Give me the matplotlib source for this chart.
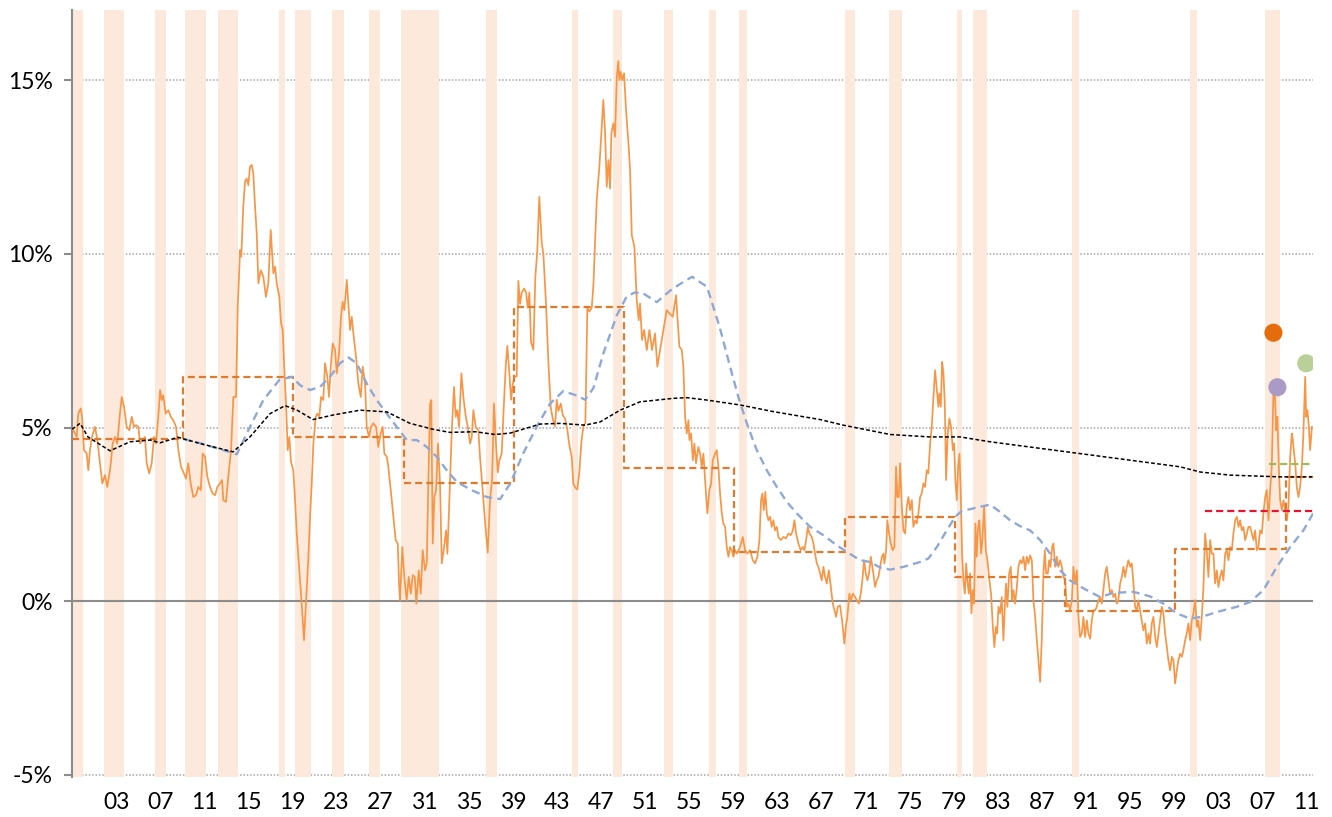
import numpy as np
import matplotlib.pyplot as plt

plt.rcParams['font.family'] = ['Lato', 'DejaVu Sans']

# monthly series
yr = [1899.00, 1899.12, 1899.43, 1899.57, 1899.79, 1899.91, 1900.09, 1900.33, 1900.48, 1900.63,
      1900.81, 1901.09, 1901.30, 1901.54, 1901.75, 1901.99, 1902.20, 1902.45, 1902.69, 1902.90,
      1903.11, 1903.29, 1903.51, 1903.72, 1903.96, 1904.20, 1904.42, 1904.63, 1904.81, 1905.02,
      1905.17, 1905.42, 1905.62, 1905.78, 1906.01, 1906.23, 1906.44, 1906.62, 1906.83, 1906.99,
      1907.14, 1907.28, 1907.50, 1907.74, 1907.96, 1908.19, 1908.44, 1908.65, 1908.89, 1909.10,
      1909.34, 1909.55, 1909.77, 1910.01, 1910.25, 1910.46, 1910.68, 1910.86, 1911.07, 1911.28,
      1911.52, 1911.77, 1911.98, 1912.19, 1912.43, 1912.61, 1912.73, 1912.97, 1913.18, 1913.43,
      1913.64, 1913.88, 1914.04, 1914.25, 1914.36, 1914.54, 1914.70, 1914.85, 1915.00, 1915.15,
      1915.31, 1915.45, 1915.61, 1915.76, 1915.91, 1916.12, 1916.36, 1916.60, 1916.81, 1917.03,
      1917.27, 1917.42, 1917.58, 1917.81, 1917.97, 1918.12, 1918.24, 1918.42, 1918.57, 1918.72,
      1918.87, 1919.08, 1919.24, 1919.39, 1919.60, 1919.84, 1920.05, 1920.23, 1920.42, 1920.60,
      1920.75, 1920.90, 1921.11, 1921.26, 1921.44, 1921.60, 1921.80, 1921.96, 1922.17, 1922.32,
      1922.50, 1922.66, 1922.87, 1923.02, 1923.23, 1923.41, 1923.56, 1923.71, 1923.93, 1924.07,
      1924.23, 1924.38, 1924.53, 1924.77, 1924.98, 1925.20, 1925.38, 1925.59, 1925.74, 1925.95,
      1926.13, 1926.34, 1926.59, 1926.79, 1927.01, 1927.19, 1927.34, 1927.56, 1927.70, 1927.92,
      1928.16, 1928.37, 1928.56, 1928.67, 1928.76, 1928.97, 1929.15, 1929.37, 1929.55, 1929.74,
      1929.92, 1930.10, 1930.24, 1930.46, 1930.64, 1930.82, 1931.03, 1931.19, 1931.33, 1931.49,
      1931.60, 1931.73, 1931.88, 1932.03, 1932.21, 1932.39, 1932.55, 1932.76, 1932.94, 1933.06,
      1933.24, 1933.46, 1933.66, 1933.82, 1933.96, 1934.12, 1934.33, 1934.51, 1934.73, 1934.91,
      1935.12, 1935.27, 1935.42, 1935.63, 1935.87, 1936.02, 1936.27, 1936.48, 1936.72, 1936.93,
      1937.11, 1937.29, 1937.48, 1937.63, 1937.77, 1937.99, 1938.14, 1938.36, 1938.50, 1938.68,
      1938.84, 1938.99, 1939.14, 1939.35, 1939.50, 1939.65, 1939.81, 1940.02, 1940.20, 1940.35,
      1940.50, 1940.65, 1940.86, 1941.04, 1941.22, 1941.40, 1941.62, 1941.77, 1942.01, 1942.22,
      1942.44, 1942.62, 1942.83, 1942.98, 1943.13, 1943.35, 1943.53, 1943.74, 1943.95, 1944.13,
      1944.34, 1944.49, 1944.67, 1944.85, 1945.03, 1945.22, 1945.40, 1945.58, 1945.76, 1945.94,
      1946.16, 1946.31, 1946.46, 1946.61, 1946.85, 1947.21, 1947.37, 1947.52, 1947.67, 1947.82,
      1947.94, 1948.12, 1948.27, 1948.43, 1948.57, 1948.66, 1948.79, 1948.91, 1949.09, 1949.27,
      1949.52, 1949.64, 1949.79, 1950.03, 1950.24, 1950.42, 1950.54, 1950.72, 1950.91, 1951.15,
      1951.39, 1951.63, 1951.90, 1952.11, 1952.36, 1952.60, 1952.81, 1952.96, 1953.20, 1953.51,
      1953.69, 1953.81, 1953.93, 1954.11, 1954.33, 1954.47, 1954.63, 1954.78, 1954.93, 1955.02,
      1955.17, 1955.33, 1955.47, 1955.62, 1955.83, 1955.99, 1956.14, 1956.29, 1956.44, 1956.65,
      1956.83, 1956.99, 1957.14, 1957.35, 1957.50, 1957.65, 1957.80, 1957.96, 1958.10, 1958.26,
      1958.41, 1958.56, 1958.71, 1958.86, 1959.01, 1959.16, 1959.32, 1959.62, 1959.86, 1960.07,
      1960.28, 1960.52, 1960.77, 1960.98, 1961.19, 1961.37, 1961.52, 1961.64, 1961.77, 1961.91,
      1962.04, 1962.19, 1962.34, 1962.49, 1962.64, 1962.79, 1962.95, 1963.09, 1963.31, 1963.55,
      1963.79, 1964.00, 1964.22, 1964.40, 1964.55, 1964.70, 1964.91, 1965.12, 1965.30, 1965.45,
      1965.61, 1965.76, 1965.91, 1966.12, 1966.27, 1966.42, 1966.58, 1966.72, 1966.88, 1967.03,
      1967.18, 1967.33, 1967.48, 1967.67, 1967.85, 1968.03, 1968.18, 1968.33, 1968.48, 1968.69,
      1968.87, 1968.99, 1969.08, 1969.21, 1969.35, 1969.53, 1969.69, 1969.84, 1970.05, 1970.21,
      1970.39, 1970.57, 1970.71, 1970.87, 1971.02, 1971.17, 1971.32, 1971.48, 1971.71, 1971.87,
      1972.02, 1972.17, 1972.32, 1972.48, 1972.62, 1972.71, 1972.87, 1972.98, 1973.14, 1973.29,
      1973.47, 1973.62, 1973.77, 1973.89, 1974.02, 1974.14, 1974.29, 1974.44, 1974.59, 1974.74,
      1974.89, 1975.04, 1975.20, 1975.34, 1975.50, 1975.65, 1975.80, 1975.95, 1976.10, 1976.25,
      1976.40, 1976.56, 1976.70, 1976.86, 1977.01, 1977.16, 1977.31, 1977.47, 1977.61, 1977.70,
      1977.83, 1977.95, 1978.07, 1978.19, 1978.31, 1978.46, 1978.61, 1978.76, 1978.92, 1979.04,
      1979.15, 1979.28, 1979.40, 1979.52, 1979.64, 1979.76, 1979.88, 1980.01, 1980.13, 1980.24,
      1980.37, 1980.49, 1980.61, 1980.73, 1980.85, 1980.97, 1981.09, 1981.21, 1981.33, 1981.49,
      1981.60, 1981.76, 1981.91, 1982.06, 1982.24, 1982.39, 1982.55, 1982.69, 1982.82, 1982.94,
      1983.06, 1983.21, 1983.36, 1983.51, 1983.64, 1983.75, 1983.87, 1984.03, 1984.18, 1984.30,
      1984.42, 1984.57, 1984.73, 1984.87, 1985.03, 1985.18, 1985.33, 1985.48, 1985.63, 1985.78,
      1985.93, 1986.09, 1986.23, 1986.39, 1986.54, 1986.69, 1986.84, 1986.99, 1987.14, 1987.27,
      1987.38, 1987.54, 1987.66, 1987.78, 1987.93, 1988.05, 1988.20, 1988.35, 1988.50, 1988.66,
      1988.81, 1988.96, 1989.11, 1989.26, 1989.41, 1989.56, 1989.72, 1989.86, 1990.02, 1990.17,
      1990.32, 1990.47, 1990.62, 1990.77, 1990.92, 1991.08, 1991.22, 1991.38, 1991.53, 1991.68,
      1991.83, 1991.98, 1992.13, 1992.28, 1992.44, 1992.58, 1992.74, 1992.89, 1993.04, 1993.19,
      1993.35, 1993.49, 1993.65, 1993.80, 1993.94, 1994.10, 1994.25, 1994.40, 1994.55, 1994.71,
      1994.85, 1995.01, 1995.16, 1995.31, 1995.46, 1995.61, 1995.76, 1995.91, 1996.07, 1996.21,
      1996.37, 1996.52, 1996.67, 1996.82, 1996.97, 1997.12, 1997.28, 1997.43, 1997.58, 1997.73,
      1997.88, 1998.03, 1998.18, 1998.34, 1998.48, 1998.64, 1998.79, 1998.94, 1999.09, 1999.24,
      1999.39, 1999.54, 1999.70, 1999.84, 2000.00, 2000.15, 2000.30, 2000.45, 2000.60, 2000.75,
      2000.91, 2001.06, 2001.20, 2001.36, 2001.51, 2001.66, 2001.81, 2001.96, 2002.11, 2002.27,
      2002.42, 2002.57, 2002.72, 2002.87, 2003.02, 2003.17, 2003.33, 2003.47, 2003.63, 2003.78,
      2003.93, 2004.08, 2004.23, 2004.38, 2004.54, 2004.69, 2004.84, 2004.99, 2005.14, 2005.29,
      2005.44, 2005.60, 2005.74, 2005.90, 2006.05, 2006.20, 2006.35, 2006.50, 2006.65, 2006.80,
      2006.96, 2007.10, 2007.26, 2007.41, 2007.56, 2007.71, 2007.86, 2008.01, 2008.14, 2008.26,
      2008.37, 2008.50, 2008.62, 2008.77, 2008.92, 2009.07, 2009.23, 2009.37, 2009.53, 2009.68,
      2009.77, 2009.89, 2010.01, 2010.13, 2010.28, 2010.43, 2010.59, 2010.73, 2010.89, 2010.98,
      2011.10, 2011.22, 2011.34, 2011.50]
val = [4.95, 4.92, 4.73, 5.40, 5.55, 5.31, 4.35, 4.26, 3.77, 4.35,
       4.73, 5.02, 4.64, 3.97, 3.39, 3.63, 3.29, 3.77, 4.54, 4.73,
       4.54, 5.21, 5.88, 5.60, 5.02, 4.92, 5.31, 5.02, 5.07, 5.02,
       4.54, 4.64, 4.73, 3.97, 3.68, 3.97, 4.73, 4.54, 5.31, 6.08,
       5.79, 5.93, 5.40, 5.50, 5.31, 5.21, 5.02, 4.35, 3.87, 3.72,
       3.53, 3.97, 3.39, 3.00, 3.05, 3.29, 3.20, 4.25, 4.16, 3.58,
       3.29, 3.10, 3.05, 3.29, 3.39, 3.49, 2.91, 2.86, 3.58, 4.35,
       5.88, 5.88, 8.48, 10.11, 9.92, 11.36, 12.08, 12.17, 11.98, 12.51,
       12.56, 12.32, 11.36, 10.59, 9.15, 9.53, 9.34, 8.76, 9.15, 10.69,
       9.44, 9.63, 9.15, 8.76, 8.00, 7.81, 6.85, 5.69, 4.35, 4.73,
       4.01, 3.77, 2.91, 1.95, 0.99, -0.07, -1.12, -0.07, 1.09, 2.43,
       3.39, 4.54, 5.31, 5.40, 5.31, 5.88, 5.79, 6.85, 6.46, 5.88,
       6.85, 7.42, 7.23, 6.56, 7.13, 8.19, 8.62, 8.38, 9.25, 8.57,
       7.81, 8.19, 7.71, 7.04, 6.27, 5.88, 6.75, 6.27, 5.02, 4.73,
       5.02, 5.12, 5.02, 4.44, 4.83, 5.02, 4.25, 4.16, 3.87, 3.20,
       2.43, 1.76, 1.66, 0.51, 0.03, 1.56, 0.70, 0.03, 0.70, 0.22,
       0.75, 0.70, -0.07, 0.89, 0.22, 1.47, 0.89, 1.09, 3.39, 5.69,
       5.79, 1.66, 3.00, 3.20, 4.54, 3.39, 1.09, 1.56, 2.04, 1.37,
       2.91, 4.92, 6.17, 5.31, 5.50, 5.02, 6.56, 5.88, 5.31, 5.02,
       4.54, 4.73, 5.50, 5.02, 4.92, 4.15, 3.16, 2.28, 1.40, 2.94,
       3.49, 5.69, 4.48, 3.71, 4.04, 4.26, 5.36, 6.80, 7.35, 6.58,
       5.80, 6.24, 6.47, 6.47, 9.22, 8.56, 8.89, 9.00, 8.89, 8.45,
       8.89, 7.46, 7.24, 9.33, 10.10, 11.64, 10.32, 9.99, 8.56, 6.91,
       5.58, 5.25, 5.03, 5.80, 5.48, 5.69, 5.36, 5.25, 4.92, 4.48,
       4.15, 3.38, 3.27, 3.22, 3.71, 4.59, 5.03, 5.14, 8.45, 8.34,
       8.45, 9.11, 10.32, 11.55, 12.51, 14.43, 13.47, 11.93, 12.70, 11.88,
       13.47, 13.76, 13.37, 15.10, 15.55, 15.00, 15.24, 15.00, 15.20, 14.14,
       13.04, 12.36, 10.54, 10.20, 8.67, 8.09, 8.57, 7.52, 7.81, 7.23,
       7.81, 7.23, 7.71, 6.75, 7.23, 7.71, 8.09, 8.38, 8.29, 8.19,
       8.57, 8.81, 8.19, 7.33, 7.23, 6.75, 5.31, 4.83, 5.21, 4.64,
       4.83, 4.06, 4.54, 3.97, 4.44, 4.25, 3.87, 4.25, 3.49, 2.53,
       3.20, 3.39, 4.06, 4.25, 4.35, 3.87, 3.10, 2.53, 2.24, 2.14,
       1.56, 1.28, 1.56, 1.47, 1.28, 1.47, 1.37, 1.56, 1.85, 1.47,
       1.37, 1.47, 1.18, 1.09, 1.28, 1.76, 2.91, 3.10, 2.62, 3.15,
       2.53, 2.33, 2.43, 2.14, 2.33, 2.04, 2.14, 1.85, 1.76, 1.85,
       1.81, 1.95, 1.90, 2.04, 2.33, 1.95, 1.66, 1.47, 1.56, 1.47,
       1.76, 2.14, 1.95, 1.85, 1.66, 1.37, 1.09, 0.99, 0.80, 0.60,
       0.99, 0.70, 0.51, 0.89, 0.41, -0.07, -0.26, -0.45, -0.16, -0.12,
       -0.55, -0.93, -1.22, -0.74, -0.45, 0.22, 0.03, 0.22, 0.12, 0.03,
       -0.07, 0.22, 0.60, 1.18, 0.80, 0.60, 0.80, 1.28, 0.80, 0.41,
       0.60, 0.70, 0.99, 1.28, 1.37, 1.09, 1.47, 2.33, 1.95, 1.66,
       1.47, 1.56, 3.87, 3.00, 3.00, 3.97, 2.72, 2.04, 1.95, 2.72,
       3.00, 2.62, 2.91, 2.14, 2.33, 2.24, 2.53, 3.00, 3.10, 3.39,
       3.29, 3.77, 3.68, 4.54, 5.02, 5.88, 6.65, 6.08, 5.60, 5.98,
       5.60, 6.89, 6.56, 5.69, 3.49, 4.83, 5.26, 5.02, 4.35, 4.54,
       3.49, 2.91, 3.87, 4.25, 3.10, 1.37, 0.60, 0.22, 1.09, 0.60,
       0.22, 0.80, -0.35, 0.32, -0.07, 2.24, 1.28, 2.14, 2.33, 1.37,
       1.76, 2.72, 1.47, 1.18, 0.60, 0.22, -0.74, -1.32, -0.74, -0.93,
       -0.16, -0.35, 0.12, -1.12, -0.16, 0.51, -0.16, 0.80, 0.99, 0.03,
       0.32, -0.07, 0.41, 0.99, 1.18, 1.09, 1.28, 0.89, 1.28, 1.09,
       1.32, 1.18, 0.03, -0.45, -1.12, -1.70, -2.32, -1.12, 0.80, 1.47,
       0.80, 0.80, 1.18, 0.99, 1.56, 1.66, 0.99, 1.28, 0.99, 1.18,
       0.99, 0.70, 0.60, -0.16, -0.07, -0.26, 0.03, 0.99, 0.51, 0.89,
       -0.45, -1.03, -0.93, -0.45, -1.03, -0.55, -0.93, -1.08, -0.55, -0.26,
       -0.26, -0.16, 0.03, 0.12, -0.07, 0.32, 0.80, 0.99, 0.60, 0.22,
       0.32, 0.12, 0.22, -0.07, 0.03, 0.51, 0.70, 0.99, 0.70, 0.99,
       1.18, 0.99, 1.09, 0.51, -0.16, -0.26, 0.03, -0.26, -0.55, -0.84,
       -0.64, -1.22, -0.93, -1.22, -0.64, -0.45, -1.03, -1.32, -0.93, -0.55,
       -0.16, -0.35, -0.93, -1.32, -1.70, -1.99, -1.60, -1.70, -2.37, -1.99,
       -1.70, -1.51, -1.60, -1.41, -1.12, -0.93, -0.64, -1.12, -0.55, -0.35,
       0.03, -0.74, -0.55, -1.12, -0.45, 0.41, 1.95, 1.47, 0.70, 1.76,
       1.37, 1.37, 0.51, 0.89, 0.41, 0.70, 0.89, 0.60, 1.37, 1.47,
       1.18, 1.56, 1.47, 1.95, 2.33, 2.43, 2.14, 2.33, 2.04, 2.14,
       1.76, 1.95, 2.14, 2.14, 1.95, 1.76, 2.04, 1.47, 1.56, 2.04,
       1.95, 2.53, 3.00, 3.20, 2.33, 3.20, 3.87, 6.08, 5.98, 4.92,
       5.31, 3.87, 2.91, 2.62, 2.91, 2.62, 2.33, 2.72, 4.16, 4.83,
       4.64, 4.25, 3.87, 3.29, 3.00, 3.29, 3.87, 4.83, 6.46, 5.31,
       5.50, 5.02, 4.35, 5.02]

# long-run (cumulative) average, black dotted
avg_yr = [1899.00, 1899.73, 1900.45, 1902.45, 1904.26, 1906.08, 1906.99, 1908.62, 1910.62, 1913.61,
          1915.15, 1916.97, 1918.33, 1919.42, 1920.87, 1922.68, 1925.13, 1927.58, 1929.67, 1931.76,
          1933.30, 1935.57, 1937.38, 1938.75, 1941.47, 1943.28, 1945.55, 1946.91, 1948.73, 1950.54,
          1953.54, 1954.81, 1956.62, 1959.62, 1962.61, 1966.88, 1968.96, 1973.23, 1976.86, 1979.58,
          1982.30, 1990.47, 1999.54, 2001.36, 2004.08, 2008.62, 2011.52]
avg_val = [4.95, 5.12, 4.73, 4.33, 4.59, 4.64, 4.56, 4.72, 4.54, 4.30,
           4.73, 5.40, 5.63, 5.50, 5.23, 5.36, 5.50, 5.45, 5.12, 4.95,
           4.86, 4.88, 4.80, 4.84, 5.10, 5.12, 5.07, 5.16, 5.50, 5.74,
           5.84, 5.86, 5.79, 5.65, 5.46, 5.23, 5.07, 4.80, 4.73, 4.73,
           4.59, 4.25, 3.87, 3.72, 3.63, 3.58, 3.58]

# 10-year moving average, blue dashed
ma_yr = [1909.07, 1910.62, 1913.95, 1915.15, 1916.36, 1917.81, 1918.94, 1919.69, 1920.60, 1921.50,
         1922.41, 1923.32, 1924.07, 1924.83, 1925.74, 1926.65, 1927.56, 1928.46, 1929.37, 1930.28,
         1931.19, 1932.09, 1933.00, 1933.91, 1935.12, 1936.63, 1937.84, 1938.75, 1939.95, 1941.17,
         1942.38, 1943.58, 1944.80, 1945.55, 1946.30, 1947.21, 1948.43, 1949.34, 1950.09, 1950.84,
         1952.06, 1953.26, 1954.26, 1955.26, 1956.62, 1957.80, 1958.71, 1959.46, 1960.23, 1961.13,
         1962.04, 1962.95, 1963.86, 1964.76, 1965.97, 1967.18, 1968.39, 1969.30, 1970.51, 1971.41,
         1972.32, 1973.23, 1974.44, 1975.95, 1976.70, 1977.47, 1978.37, 1979.13, 1979.73, 1980.49,
         1981.40, 1982.30, 1983.21, 1984.12, 1985.03, 1985.93, 1986.84, 1987.75, 1988.66, 1989.56,
         1990.77, 1992.28, 1993.49, 1995.31, 1996.82, 1998.03, 1999.24, 2000.45, 2001.51, 2002.87,
         2004.69, 2005.90, 2007.10, 2008.32, 2009.53, 2010.73, 2011.61]
ma_val = [4.67, 4.55, 4.23, 5.02, 5.79, 6.37, 6.46, 6.22, 6.08, 6.17,
          6.46, 6.85, 7.02, 6.85, 6.27, 5.79, 5.40, 5.02, 4.64, 4.64,
          4.44, 4.16, 3.77, 3.44, 3.22, 3.00, 2.94, 3.38, 4.26, 5.03,
          5.69, 6.05, 5.92, 5.80, 6.13, 7.13, 8.23, 8.78, 8.89, 8.86,
          8.61, 8.94, 9.15, 9.34, 9.05, 7.85, 6.75, 5.88, 5.12, 4.35,
          3.77, 3.29, 2.86, 2.53, 2.14, 1.90, 1.61, 1.42, 1.18, 1.13,
          0.97, 0.91, 0.99, 1.13, 1.23, 1.56, 2.04, 2.43, 2.60, 2.65,
          2.72, 2.78, 2.57, 2.33, 2.16, 2.04, 1.76, 1.37, 0.89, 0.60,
          0.37, 0.12, 0.24, 0.27, 0.14, -0.07, -0.35, -0.50, -0.45, -0.31,
          -0.16, -0.02, 0.32, 0.99, 1.56, 2.04, 2.53]

# decade averages, orange dashed steps
dec_edges = [1899.0, 1909.08, 1919.08, 1929.1, 1939.1, 1949.1, 1959.08, 1969.12, 1979.1, 1989.1, 1999.1, 2009.18, 2011.6]
dec_avg = [4.67, 6.46, 4.73, 3.41, 8.48, 3.83, 1.42, 2.43, 0.70, -0.29, 1.50, 3.58]

# short reference levels at the end
red_level = (2001.81, 2011.6, 2.60)
green_level = (2007.62, 2011.6, 3.95)

# highlighted points
pt_x = [2008.01, 2008.37, 2010.98]
pt_y = [7.73, 6.16, 6.85]
pt_c = ['#E46C0A', '#A99BC6', '#B9D198']

# recessions (shaded)
rec_start = [1899.0, 1901.9, 1906.56, 1909.25, 1912.25, 1917.78, 1919.24, 1922.6, 1925.98, 1928.83,
             1936.57, 1944.34, 1948.09, 1952.75, 1956.83, 1959.53, 1969.17, 1973.11, 1979.3, 1980.76,
             1989.77, 2000.45, 2007.26]
rec_end = [1900.03, 1903.7, 1907.53, 1911.13, 1914.04, 1918.33, 1920.66, 1923.66, 1926.98, 1932.33,
           1937.57, 1944.91, 1948.91, 1953.51, 1957.44, 1960.22, 1970.02, 1974.35, 1979.76, 1982.03,
           1990.38, 2001.06, 2008.63]

fig = plt.figure(figsize=(13.32, 8.17), dpi=100)
ax = fig.add_axes([72/1332, 1 - 777/817, (1313 - 72)/1332, (777 - 10)/817])

for s, e in zip(rec_start, rec_end):
    ax.axvspan(s, e, color='#FDE9DB', lw=0, zorder=1)

for g in [-5, 5, 10, 15]:
    ax.axhline(g, color='#A6A6A6', lw=1.1, ls=(0, (1, 1.2)), zorder=0.5)
ax.axhline(0, color='#8C8C8C', lw=1.5, zorder=1.5)

ax.plot(yr, val, color='#F79646', lw=1.25, zorder=3)
ax.plot(dec_edges, dec_avg + [dec_avg[-1]], drawstyle='steps-post', color='#E07B2E',
        lw=1.6, dashes=(3.2, 1.8), zorder=4)
ax.plot(ma_yr, ma_val, color='#8EA9D6', lw=1.7, dashes=(3.5, 2.2), zorder=4)
ax.plot(avg_yr, avg_val, color='black', lw=1.1, dashes=(2.5, 1.5), zorder=5)
ax.plot(red_level[:2], [red_level[2]] * 2, color='#E8132F', lw=1.6, dashes=(3.2, 1.8), zorder=5)
ax.plot(green_level[:2], [green_level[2]] * 2, color='#9BBB59', lw=1.6, dashes=(3.2, 1.8), zorder=5)
ax.scatter(pt_x, pt_y, s=170, c=pt_c, lw=0, zorder=6)

ax.set_xlim(1899.0, 2011.6)
ax.set_ylim(-5.06, 17.02)

xt = np.arange(1903, 2012, 4)
ax.set_xticks(xt)
ax.set_xticklabels([f'{t % 100:02d}' for t in xt])
ax.set_yticks([-5, 0, 5, 10, 15])
ax.set_yticklabels(['-5%', '0%', '5%', '10%', '15%'])
ax.tick_params(axis='x', length=0, pad=11, labelsize=16.5)
ax.tick_params(axis='y', length=6, width=1.5, color='#8C8C8C', pad=8, labelsize=16.5)

for sp in ['top', 'right', 'bottom']:
    ax.spines[sp].set_visible(False)
ax.spines['left'].set_color('#8C8C8C')
ax.spines['left'].set_linewidth(1.5)

fig.savefig('out.png', dpi=100)
